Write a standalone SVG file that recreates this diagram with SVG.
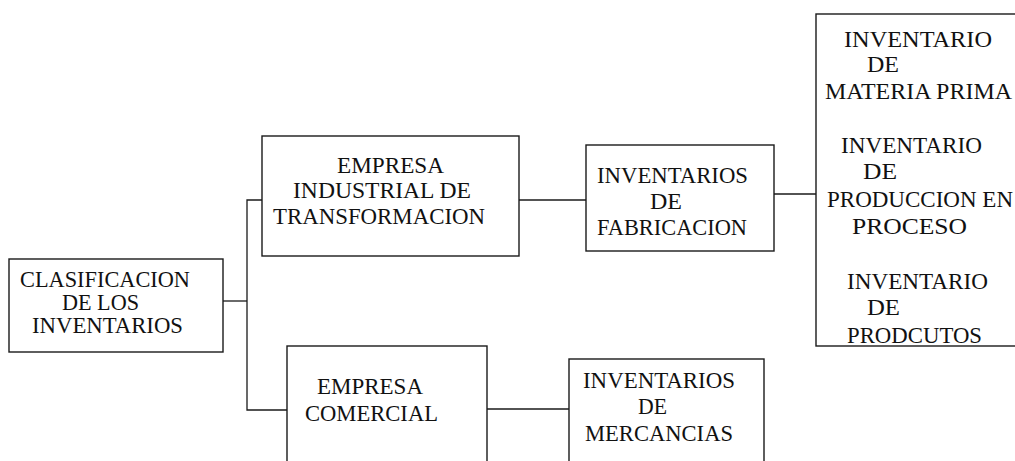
<svg xmlns="http://www.w3.org/2000/svg" width="1015" height="461" viewBox="0 0 1015 461">
<style>
.box{fill:#fff;stroke:#1a1a1a;stroke-width:1.4}
.ln{fill:none;stroke:#1a1a1a;stroke-width:1.3}
.t{font-family:'Liberation Serif','Times New Roman',Times,Tinos,'Nimbus Roman','Nimbus Roman No9 L',FreeSerif,'Noto Serif','DejaVu Serif',serif;font-size:22.5px;fill:#111}
</style>
<rect width="1015" height="461" fill="#fff"/>
<g id="connectors">
<polyline class="ln" points="223,301 247,301"/>
<polyline class="ln" points="262,200 247,200 247,410 287,410"/>
<line class="ln" x1="519" y1="200" x2="586" y2="200"/>
<line class="ln" x1="774" y1="194" x2="816" y2="194"/>
<line class="ln" x1="487" y1="409" x2="569" y2="409"/>
</g>
<g id="n1" class="t">
<rect class="box" x="9" y="259" width="214" height="93"/>
<text x="20" y="287" textLength="170" lengthAdjust="spacingAndGlyphs">CLASIFICACION</text>
<text x="62" y="310" textLength="77" lengthAdjust="spacingAndGlyphs">DE LOS</text>
<text x="32" y="333" textLength="151" lengthAdjust="spacingAndGlyphs">INVENTARIOS</text>
</g>
<g id="n2" class="t">
<rect class="box" x="262" y="136" width="257" height="120"/>
<text x="337" y="173" textLength="107" lengthAdjust="spacingAndGlyphs">EMPRESA</text>
<text x="293" y="198" textLength="178" lengthAdjust="spacingAndGlyphs">INDUSTRIAL DE</text>
<text x="273" y="224" textLength="212" lengthAdjust="spacingAndGlyphs">TRANSFORMACION</text>
</g>
<g id="n3" class="t">
<rect class="box" x="586" y="145" width="188" height="106"/>
<text x="597" y="183" textLength="151" lengthAdjust="spacingAndGlyphs">INVENTARIOS</text>
<text x="650" y="209" textLength="32" lengthAdjust="spacingAndGlyphs">DE</text>
<text x="597" y="235" textLength="150" lengthAdjust="spacingAndGlyphs">FABRICACION</text>
</g>
<g id="n4" class="t">
<rect class="box" x="816" y="14" width="210" height="332"/>
<text x="844" y="47" textLength="148" lengthAdjust="spacingAndGlyphs">INVENTARIO</text>
<text x="867" y="72" textLength="32" lengthAdjust="spacingAndGlyphs">DE</text>
<text x="825" y="99" textLength="187" lengthAdjust="spacingAndGlyphs">MATERIA PRIMA</text>
<text x="841" y="153" textLength="141" lengthAdjust="spacingAndGlyphs">INVENTARIO</text>
<text x="863" y="179" textLength="34" lengthAdjust="spacingAndGlyphs">DE</text>
<text x="827" y="207" textLength="186" lengthAdjust="spacingAndGlyphs">PRODUCCION EN</text>
<text x="852" y="234" textLength="115" lengthAdjust="spacingAndGlyphs">PROCESO</text>
<text x="847" y="289" textLength="141" lengthAdjust="spacingAndGlyphs">INVENTARIO</text>
<text x="867" y="315" textLength="33" lengthAdjust="spacingAndGlyphs">DE</text>
<text x="847" y="343" textLength="135" lengthAdjust="spacingAndGlyphs">PRODCUTOS</text>
</g>
<g id="n5" class="t">
<rect class="box" x="287" y="346" width="200" height="130"/>
<text x="317" y="394" textLength="106" lengthAdjust="spacingAndGlyphs">EMPRESA</text>
<text x="305" y="421" textLength="133" lengthAdjust="spacingAndGlyphs">COMERCIAL</text>
</g>
<g id="n6" class="t">
<rect class="box" x="569" y="359" width="195" height="120"/>
<text x="583" y="388" textLength="152" lengthAdjust="spacingAndGlyphs">INVENTARIOS</text>
<text x="638" y="414" textLength="29" lengthAdjust="spacingAndGlyphs">DE</text>
<text x="585" y="441" textLength="148" lengthAdjust="spacingAndGlyphs">MERCANCIAS</text>
</g>
</svg>
